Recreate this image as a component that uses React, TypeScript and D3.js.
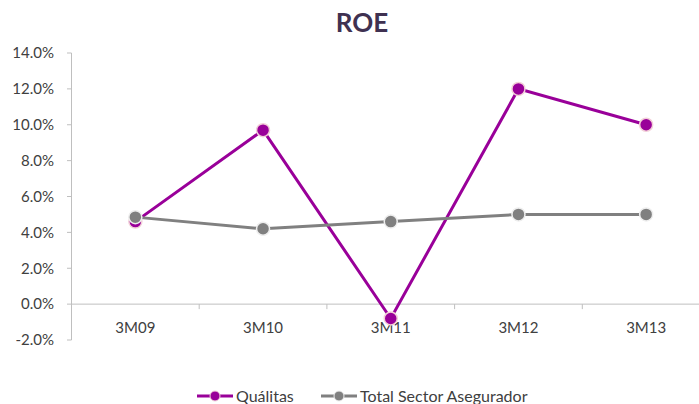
import * as d3 from 'd3';

const categories = ['3M09', '3M10', '3M11', '3M12', '3M13'];
const qualitas = [4.6, 9.7, -0.8, 12.0, 10.0];
const totalSector = [4.85, 4.2, 4.6, 5.0, 5.0];
const yTicks = [-2, 0, 2, 4, 6, 8, 10, 12, 14];

const width = 699,
  height = 404;
const FONT = 'Lato, "Open Sans", sans-serif';

const series = [
  { name: 'Quálitas', values: qualitas, color: '#990099', ring: '#f2d0d8', legendX: 197 },
  { name: 'Total Sector Asegurador', values: totalSector, color: '#808080', ring: '#eeeeee', legendX: 321 },
];

export default function App() {
  // plot runs past the right edge, as in the reference
  const xScale = d3.scaleBand().domain(categories).range([71.5, 710]);
  const yScale = d3.scaleLinear().domain([-2, 14]).range([340, 53]);
  const cx = (c: string) => (xScale(c) ?? 0) + xScale.bandwidth() / 2;

  const line = d3
    .line<number>()
    .x((_, i) => cx(categories[i]))
    .y(d => yScale(d));

  const y0 = yScale(0);

  return (
    <svg width={width} height={height} style={{ position: 'absolute', left: 0, top: 0 }}>
      <rect width={width} height={height} fill="#fff" />
      <text x={362} y={32} textAnchor="middle" fontFamily={FONT} fontWeight="bold" fontSize={26} fill="#3f3151">
        ROE
      </text>

      {/* y axis */}
      <line x1={71.5} x2={71.5} y1={yScale(14)} y2={yScale(-2)} stroke="#bfbfbf" />
      {yTicks.map(t => (
        <g key={t}>
          <line x1={67} x2={71.5} y1={yScale(t)} y2={yScale(t)} stroke="#bfbfbf" />
          <text x={54} y={yScale(t)} dy="0.35em" textAnchor="end" fontFamily={FONT} fontSize={15} fill="#404040">
            {t.toFixed(1)}%
          </text>
        </g>
      ))}

      {/* x axis at zero */}
      <line x1={71.5} x2={710} y1={y0} y2={y0} stroke="#bfbfbf" />
      {categories.map((c, i) => (
        <g key={c}>
          {i > 0 && <line x1={xScale(c)} x2={xScale(c)} y1={y0} y2={y0 + 5} stroke="#bfbfbf" />}
          <text x={cx(c)} y={y0 + 29} textAnchor="middle" fontFamily={FONT} fontSize={15} fill="#404040">
            {c}
          </text>
        </g>
      ))}

      {series.map(s => (
        <g key={s.name}>
          <path d={line(s.values) ?? ''} fill="none" stroke={s.color} strokeWidth={3} />
          {s.values.map((v, i) => (
            <circle key={i} cx={cx(categories[i])} cy={yScale(v)} r={6.5} fill={s.color} stroke={s.ring} strokeWidth={1.5} />
          ))}
        </g>
      ))}

      {/* legend */}
      {series.map(s => (
        <g key={s.name}>
          <line x1={s.legendX} x2={s.legendX + 36} y1={396} y2={396} stroke={s.color} strokeWidth={3} />
          <circle cx={s.legendX + 18} cy={396} r={5} fill={s.color} stroke={s.ring} />
          <text x={s.legendX + 39} y={396} dy="0.35em" fontFamily={FONT} fontSize={16} fill="#404040">
            {s.name}
          </text>
        </g>
      ))}
    </svg>
  );
}
